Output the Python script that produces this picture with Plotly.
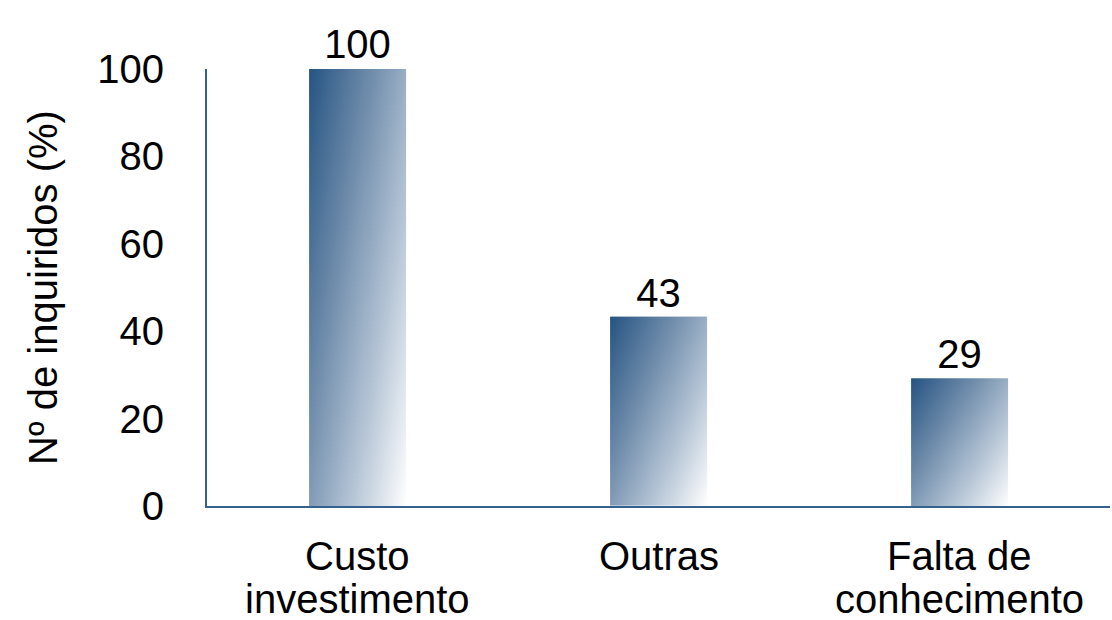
import numpy as np
import plotly.graph_objects as go

# Survey data: reasons given, share of respondents (%)
categories = ["Custo<br>investimento", "Outras", "Falta de<br>conhecimento"]
values = [100, 43, 29]
y_ticks = [0, 20, 40, 60, 80, 100]

BAR_WIDTH = 0.315
FONT = "Liberation Sans, Arial, sans-serif"
FONT_SIZE = 40
AXIS_COLOR = "#34618f"
LINE_GAP = 43  # px between the lines of a category label

fig = go.Figure()

# Each bar is filled with a diagonal gradient (dark blue top-left -> white bottom-right)
nx, ny = 48, 64
gx = np.linspace(0, 1, nx)
gy = np.linspace(0, 1, ny)  # 0 = bottom, 1 = top
GX, GY = np.meshgrid(gx, gy)
shade = 0.55 * GX + 0.45 * (1 - GY)  # 0 = darkest, 1 = lightest

colorscale = [
    [0.0, "#285684"],
    [0.35, "#6f8cab"],
    [0.7, "#b9c8d8"],
    [1.0, "#ffffff"],
]

for i, v in enumerate(values):
    xs = np.linspace(i - BAR_WIDTH / 2, i + BAR_WIDTH / 2, nx)
    ys = np.linspace(0, v, ny)
    fig.add_trace(go.Heatmap(
        x=xs, y=ys, z=shade,
        colorscale=colorscale, zmin=0, zmax=1,
        zsmooth="best", showscale=False, hoverinfo="skip",
    ))

# Transparent bars carry the value labels and hover info
fig.add_trace(go.Bar(
    x=list(range(len(values))), y=values, width=BAR_WIDTH,
    marker=dict(color="rgba(0,0,0,0)", line=dict(width=0)),
    text=[str(v) for v in values], textposition="outside",
    textfont=dict(size=FONT_SIZE, color="#000000", family=FONT),
    cliponaxis=False, showlegend=False,
))

# Category labels, one annotation per line for tight line spacing
for i, cat in enumerate(categories):
    for j, line in enumerate(cat.split("<br>")):
        fig.add_annotation(
            x=i, xref="x", y=0, yref="paper",
            text=line, showarrow=False,
            yanchor="middle", xanchor="center",
            yshift=-(50 + j * LINE_GAP),
            font=dict(size=FONT_SIZE, family=FONT, color="#000000"),
        )

fig.update_layout(
    width=1112, height=620,
    margin=dict(l=207, r=2, t=69, b=114),
    paper_bgcolor="white", plot_bgcolor="white",
    font=dict(family=FONT, size=FONT_SIZE, color="#000000"),
    showlegend=False,
    xaxis=dict(
        range=[-0.5, 2.5],
        tickvals=list(range(len(categories))), showticklabels=False,
        showgrid=False, zeroline=False,
        showline=True, linecolor=AXIS_COLOR, linewidth=2,
        ticks="",
    ),
    yaxis=dict(
        range=[0, 100], tickvals=y_ticks,
        showgrid=False, zeroline=False,
        showline=True, linecolor=AXIS_COLOR, linewidth=2,
        ticks="", ticklabelstandoff=33,
        tickfont=dict(size=FONT_SIZE, family=FONT, color="#000000"),
        title=dict(text="Nº de inquiridos (%)", standoff=27,
                   font=dict(size=FONT_SIZE, family=FONT, color="#000000")),
    ),
)

fig.write_html("out.html")
